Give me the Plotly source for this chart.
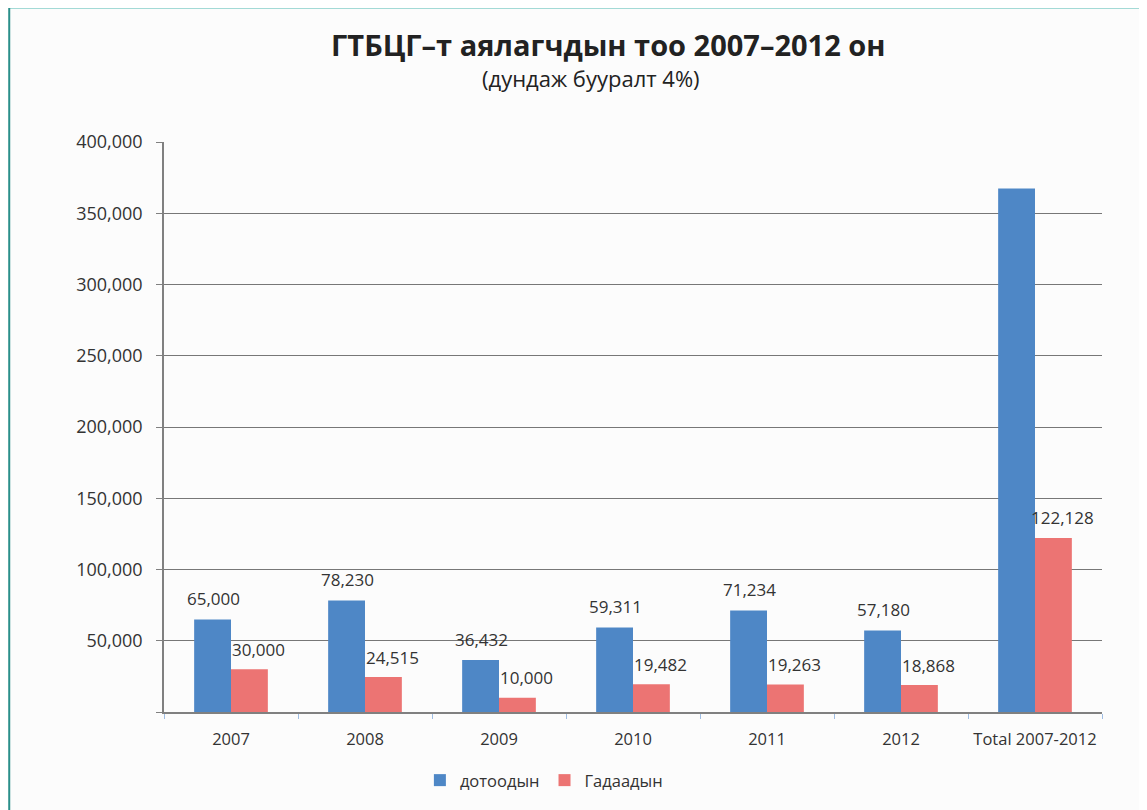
import plotly.graph_objects as go

# Chart data
categories = ['2007', '2008', '2009', '2010', '2011', '2012', 'Total 2007-2012']
domestic = [65000, 78230, 36432, 59311, 71234, 57180, 367387]
foreign = [30000, 24515, 10000, 19482, 19263, 18868, 122128]
domestic_labels = ['65,000', '78,230', '36,432', '59,311', '71,234', '57,180', '']
foreign_labels = ['30,000', '24,515', '10,000', '19,482', '19,263', '18,868', '122,128']
y_ticks = [0, 50000, 100000, 150000, 200000, 250000, 300000, 350000, 400000]
y_tick_text = ['' if v == 0 else f'{v:,}' for v in y_ticks]

font_family = "Open Sans, Noto Sans, sans-serif"
text_color = '#333333'

fig = go.Figure()

fig.add_trace(go.Bar(
    x=categories,
    y=domestic,
    name='дотоодын',
    marker=dict(color='#4e87c6', line=dict(width=0)),
))

fig.add_trace(go.Bar(
    x=categories,
    y=foreign,
    name='Гадаадын',
    marker=dict(color='#ec7473', line=dict(width=0)),
))

# value labels sit a bit above the bars, Excel style (red ones nudged right)
# x uses the category index, since '2007' etc. would be read as a number
labels = []
for i, (val, lab) in enumerate(zip(domestic, domestic_labels)):
    if lab:
        labels.append(dict(x=i, y=val, text=lab, xref='x', yref='y',
                           showarrow=False, xshift=-18, yshift=21,
                           xanchor='center', yanchor='middle',
                           font=dict(size=17, color=text_color)))
for i, (val, lab) in enumerate(zip(foreign, foreign_labels)):
    if lab:
        labels.append(dict(x=i, y=val, text=lab, xref='x', yref='y',
                           showarrow=False, xshift=27, yshift=20,
                           xanchor='center', yanchor='middle',
                           font=dict(size=17, color=text_color)))

labels.append(dict(
    text='(дундаж бууралт 4%)',
    xref='paper', yref='paper',
    x=0.455, y=1.112,
    xanchor='center', yanchor='middle',
    showarrow=False,
    font=dict(size=22, color='#222222', family=font_family)
))

# the page body adds ~8px offset, so the figure is a bit smaller than the window
fig.update_layout(
    width=1139,
    height=802,
    barmode='group',
    bargap=0.45,
    bargroupgap=0,
    paper_bgcolor='#fcfcfc',
    plot_bgcolor='#fcfcfc',
    font=dict(family=font_family, color=text_color, size=16),
    margin=dict(l=156, r=45, t=134, b=98),
    title=dict(
        text='<b>ГТБЦГ–т аялагчдын тоо 2007–2012 он</b>',
        x=0.527,
        xanchor='center',
        y=0.953,
        yanchor='middle',
        font=dict(size=29, color='#222222', family=font_family)
    ),
    annotations=labels,
    legend=dict(
        orientation='h',
        x=0.405,
        xanchor='center',
        y=-0.12,
        yanchor='middle',
        font=dict(size=16.5, color=text_color),
        bgcolor='rgba(0,0,0,0)',
        itemwidth=30,
        traceorder='normal'
    ),
    xaxis=dict(
        type='category',
        showgrid=False,
        showline=True,
        linecolor='#808080',
        linewidth=1.5,
        ticks='outside',
        tickson='boundaries',
        ticklen=5,
        tickcolor='#9fbde3',
        tickangle=0,
        automargin=False,
        tickfont=dict(size=16.5, color=text_color),
        ticklabelstandoff=11
    ),
    yaxis=dict(
        range=[0, 400000],
        tickvals=y_ticks,
        ticktext=y_tick_text,
        showgrid=True,
        gridcolor='#777777',
        gridwidth=1,
        showline=True,
        linecolor='#808080',
        linewidth=1.5,
        ticks='outside',
        ticklen=6,
        tickcolor='#808080',
        automargin=False,
        tickfont=dict(size=18, color=text_color),
        ticklabelstandoff=10,
        zeroline=False
    ),
    shapes=[
        dict(type='line', xref='paper', yref='paper',
             x0=-0.165, x1=1.1, y0=1.236, y1=1.236,
             line=dict(color='#4bb8b0', width=2)),
        dict(type='line', xref='paper', yref='paper',
             x0=-0.165, x1=-0.165, y0=1.236, y1=-0.2,
             line=dict(color='#2a8f8a', width=2)),
    ]
)

fig.write_html("out.html")
